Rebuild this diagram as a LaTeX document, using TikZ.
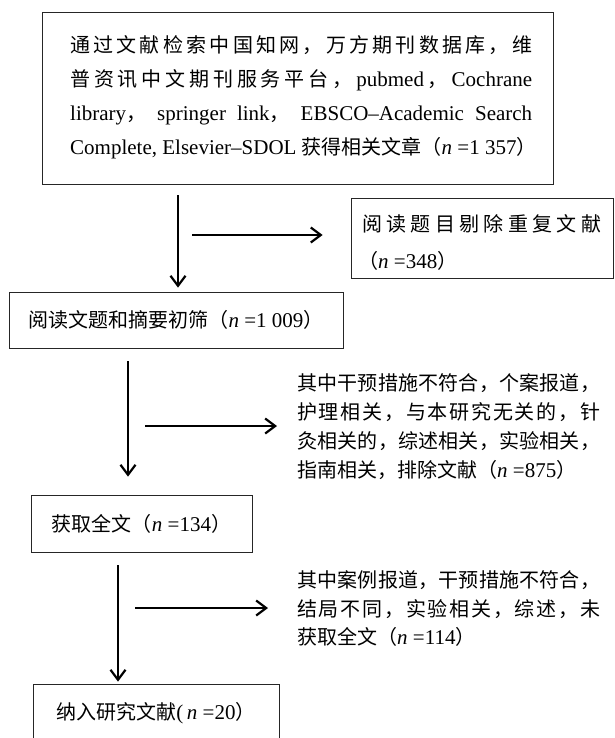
\documentclass[tikz,border=0pt]{standalone}
\usepackage{fontspec}
\setmainfont{Liberation Serif}
\newfontfamily\cjk{Noto Sans CJK SC}
\usetikzlibrary{arrows.meta}
\newcommand\cj{\cjk\fontsize{20}{29}\selectfont}
\newcommand\latn{\rmfamily\fontsize{21}{29}\selectfont}
\newcommand\nv[1]{{\latn\textit{n} =#1}}
\makeatletter
\def\sprd#1{\sprd@a#1\sprd@end}
\def\sprd@a#1{#1\sprd@b}
\def\sprd@b#1{\ifx\sprd@end#1\else\hfil#1\expandafter\sprd@b\fi}
\makeatother
\tikzset{
  box/.style={draw=black!85, line width=0.8pt, inner sep=0pt, font=\cj},
  ln/.style={anchor=base west, inner sep=0pt, font=\cj},
  arr/.style={line width=2.2pt, -{Straight Barb[length=10pt,width=15pt,line width=2.2pt]}}
}
\begin{document}
\begin{tikzpicture}[x=1pt,y=-1pt]
\useasboundingbox (0,0) rectangle (614,738);
\fill[white] (0,0) rectangle (614,738);

% boxes
\node[box, minimum width=511pt, minimum height=172pt] (b1) at (297.5,98) {};
\node[box, minimum width=262pt, minimum height=80pt] (b2) at (482,238) {};
\node[box, minimum width=334pt, minimum height=56pt] (b3) at (176,320)
  {阅读文题和摘要初筛（\nv{1\hspace{0.25em}009}）};
\node[box, minimum width=221pt, minimum height=57pt] (b4) at (141.5,523.5)
  {获取全文（\nv{134}）};
\node[box, minimum width=246pt, minimum height=58pt] (b5) at (156,713)
  {纳入研究文献{\latn(\,}\nv{20}）};

% box 1 text
\node[ln] (t1a) at (70,53) {\makebox[462pt][s]{\sprd{通过文献检索中国知网，万方期刊数据库，维}}};
\node[ln] (t1b) at (70,87) {\makebox[462pt][s]{\sprd{普资讯中文期刊服务平台，{{\latn pubmed}}，{{\latn Cochrane}}}}};
\node[ln] (t1c) at (70,121) {\makebox[462pt][s]{\latn library{\cj ，}\hfil springer\hfil link{\cj ，}\hfil EBSCO–Academic\hfil Search}};
\node[ln] (t1d) at (70,155) {{\latn Complete, Elsevier–SDOL }获得相关文章（\nv{1\hspace{0.25em}357}）};

% box 2 text
\node[ln] (t2a) at (362,231.5) {\makebox[239pt][s]{\sprd{阅读题目剔除重复文献}}};
\node[ln] (t2b) at (358,268.5) {（\nv{348}）};

% exclusion text 1
\node[ln] (tBa) at (297,390.5) {\makebox[303pt][s]{\sprd{其中干预措施不符合，个案报道，}}};
\node[ln] (tBb) at (297,419.5) {\makebox[303pt][s]{\sprd{护理相关，与本研究无关的，针}}};
\node[ln] (tBc) at (297,448.5) {\makebox[303pt][s]{\sprd{灸相关的，综述相关，实验相关，}}};
\node[ln] (tBd) at (297,477.5) {指南相关，排除文献（\nv{875}）};

% exclusion text 2
\node[ln] (tCa) at (297,587.5) {\makebox[303pt][s]{\sprd{其中案例报道，干预措施不符合，}}};
\node[ln] (tCb) at (297,616.5) {\makebox[303pt][s]{\sprd{结局不同，实验相关，综述，未}}};
\node[ln] (tCc) at (297,644.5) {获取全文（\nv{114}）};

% arrow anchors
\coordinate (x1) at (178,0);
\coordinate (x2) at (128,0);
\coordinate (x3) at (118,0);
\coordinate (h1) at (192,235);
\coordinate (h2) at (145,426);
\coordinate (h3) at (135,608);

% vertical arrows
\draw[arr, shorten <=11pt, shorten >=4pt] (b1.south -| x1) -- (b3.north -| x1);
\draw[arr, shorten <=13pt, shorten >=18pt] (b3.south -| x2) -- (b4.north -| x2);
\draw[arr, shorten <=13pt, shorten >=2pt] (b4.south -| x3) -- (b5.north -| x3);

% horizontal arrows
\draw[arr, shorten >=28pt] (h1) -- (h1 -| b2.west);
\draw[arr, shorten >=20pt] (h2) -- (h2 -| tBa.west);
\draw[arr, shorten >=29pt] (h3) -- (h3 -| tCa.west);
\end{tikzpicture}
\end{document}
